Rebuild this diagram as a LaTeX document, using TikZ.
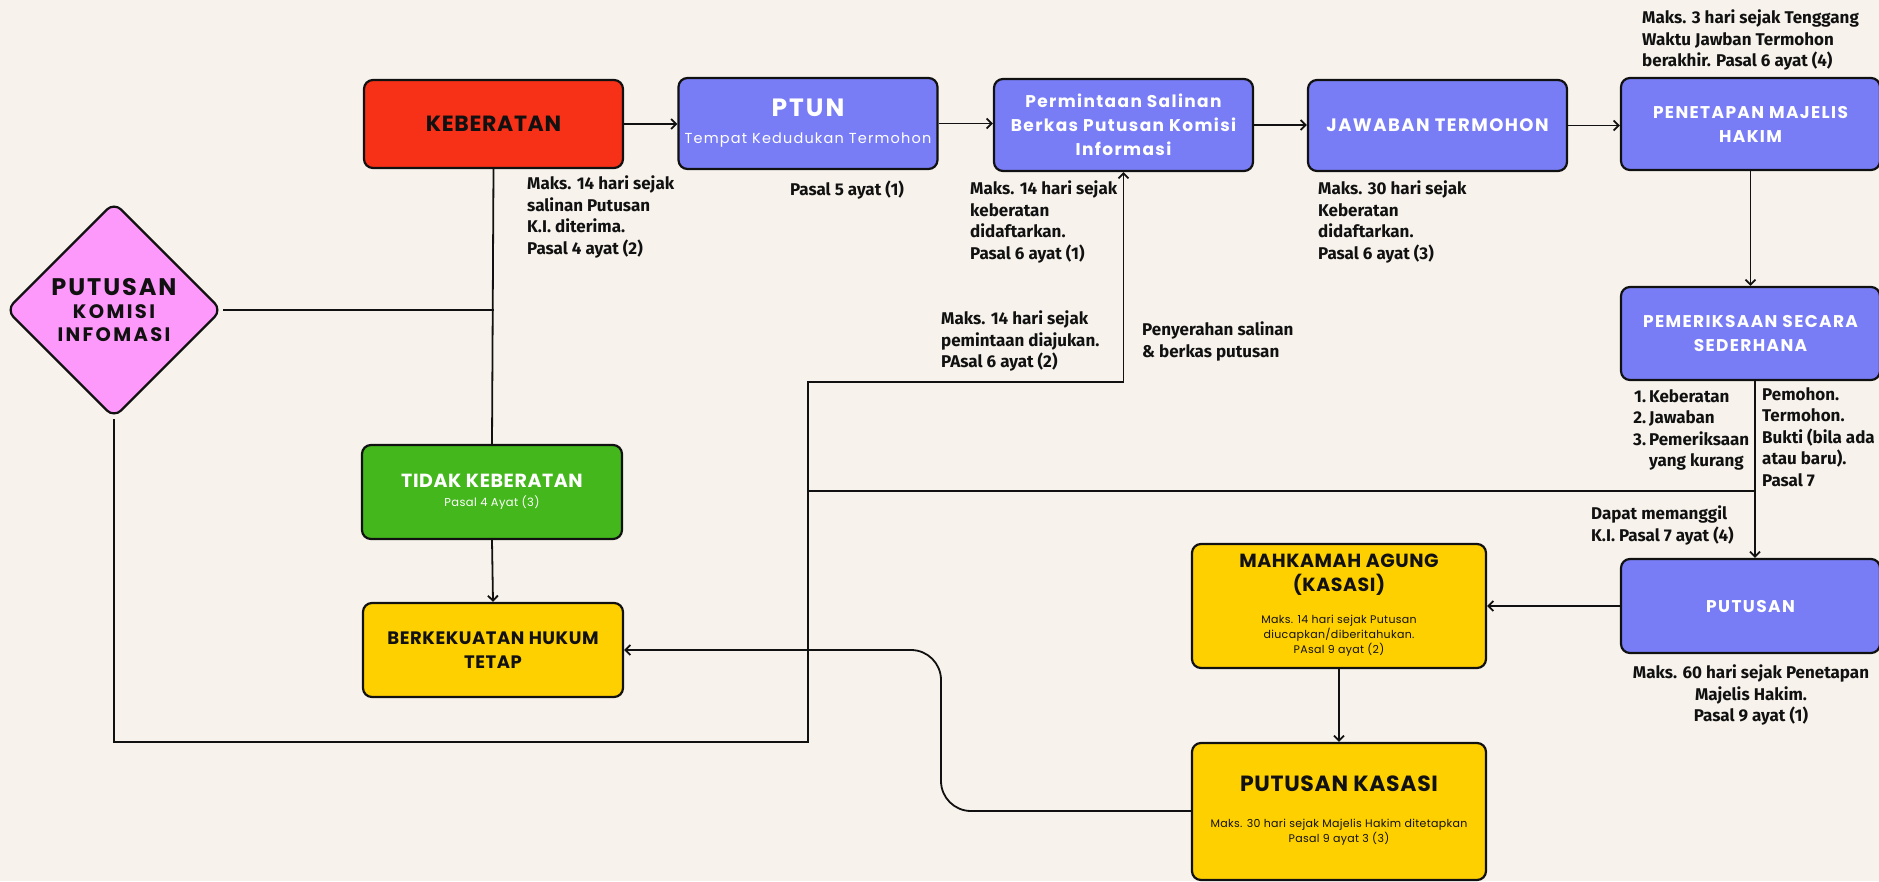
\documentclass[tikz,border=0pt]{standalone}
\usepackage{fontspec}
\usetikzlibrary{arrows.meta,shapes.geometric}
\setmainfont{Fira Sans}
\newfontfamily\lblfont{Fira Sans}
\newfontfamily\ttlfont{Poppins}[LetterSpace=3]
\newfontfamily\ttlwide{Poppins}[LetterSpace=8]
\newfontfamily\diafont{Poppins}[LetterSpace=12]
\definecolor{bgc}{HTML}{F7F3EC}
\definecolor{redc}{HTML}{F63118}
\definecolor{bluec}{HTML}{787DF6}
\definecolor{greenc}{HTML}{43B71B}
\definecolor{yelc}{HTML}{FFD000}
\definecolor{pinkc}{HTML}{FE99FC}
\definecolor{inkc}{HTML}{111111}
\newcommand{\smalltext}[1]{{\ttlfont\mdseries\fontsize{11}{14.4}\selectfont\begin{tabular}[t]{@{}c@{}}#1\end{tabular}}}
\begin{document}
\begin{tikzpicture}[x=1pt,y=-1pt,
  box/.style={draw=inkc,line width=2.2pt,rounded corners=9pt,inner sep=0pt,align=center},
  bluebox/.style={box,fill=bluec,text=white,minimum width=259pt,font=\ttlwide\bfseries\fontsize{17}{24}\selectfont},
  yelbox/.style={box,fill=yelc,text=inkc,font=\ttlfont\bfseries\fontsize{19}{24}\selectfont},
  conn/.style={line width=1.8pt,draw=inkc},
  arr/.style={conn,-{Straight Barb[length=5pt,width=10pt]}},
  lbl/.style={inner sep=0pt,align=left,text=inkc,font=\lblfont\bfseries\fontsize{17}{21.5}\selectfont}
]
\fill[bgc] (0,0) rectangle (1879,881);
\useasboundingbox (0,0) rectangle (1879,881);

% top row
\node[box,fill=redc,minimum width=259pt,minimum height=88pt,text=inkc,font=\ttlfont\bfseries\fontsize{22}{26}\selectfont] (keb) at (493.5,124) {KEBERATAN};
\node[bluebox,minimum height=91pt] (ptun) at (808,123.5) {{\fontsize{25}{28}\selectfont PTUN}\\[3pt]{\ttlwide\mdseries\fontsize{14.5}{18}\selectfont Tempat Kedudukan Termohon}};
\node[bluebox,minimum height=92pt] (perm) at (1123.5,125) {Permintaan Salinan\\Berkas Putusan Komisi\\Informasi};
\node[bluebox,minimum height=91pt,font=\ttlwide\bfseries\fontsize{18}{24}\selectfont] (jaw) at (1437.5,125.5) {JAWABAN TERMOHON};
\node[bluebox,minimum height=92pt] (pen) at (1750.5,124) {PENETAPAN MAJELIS\\HAKIM};
\node[bluebox,minimum height=93pt] (pem) at (1750.5,333.5) {PEMERIKSAAN SECARA\\SEDERHANA};
\node[bluebox,minimum height=94pt] (put) at (1750.5,606) {PUTUSAN};

% yellow boxes
\node[yelbox,minimum width=294pt,minimum height=124pt] (ma) at (1339,606) {MAHKAMAH AGUNG\\(KASASI)\\[8pt]\smalltext{Maks. 14 hari sejak Putusan\\diucapkan/diberitahukan.\\PAsal 9 ayat (2)}};
\node[yelbox,minimum width=294pt,minimum height=137pt,font=\ttlfont\bfseries\fontsize{22}{24}\selectfont] (kas) at (1339,811.5) {PUTUSAN KASASI\\[12pt]\smalltext{Maks. 30 hari sejak Majelis Hakim ditetapkan\\Pasal 9 ayat 3 (3)}};
\node[yelbox,minimum width=260pt,minimum height=94pt,font=\ttlfont\bfseries\fontsize{18}{24}\selectfont] (berk) at (493,650) {BERKEKUATAN HUKUM\\TETAP};
\node[box,fill=greenc,text=white,minimum width=260pt,minimum height=94pt,font=\ttlfont\bfseries\fontsize{19}{19}\selectfont] (tid) at (492,492) {TIDAK KEBERATAN\\{\mdseries\fontsize{11.5}{13}\selectfont Pasal 4 Ayat (3)}};

% diamond
\node[draw=inkc,line width=2.2pt,fill=pinkc,diamond,minimum width=216pt,minimum height=216pt,inner sep=0pt,rounded corners=10pt,align=center,text=inkc,font=\diafont\bfseries\fontsize{19.5}{23}\selectfont] (dia) at (114,310) {{\ttlwide\fontsize{24}{23}\selectfont PUTUSAN}\\KOMISI\\INFOMASI};

% helper coordinates
\coordinate (c1) at (808,742);
\coordinate (c2) at (808,382);
\coordinate (c3) at (808,491);
\coordinate (j1) at (1755,491);
\coordinate (kb) at (941,0);

% connectors
\draw[arr] (keb.east) -- (keb.east -| ptun.west);
\draw[arr] (ptun.east) -- (ptun.east -| perm.west);
\draw[arr] (perm.east) -- (perm.east -| jaw.west);
\draw[arr] (jaw.east) -- (jaw.east -| pen.west);
\draw[arr] (pen.south) -- (pem.north);
\draw[arr] ([xshift=4.5pt]pem.south) -- ([xshift=4.5pt]put.north);
\draw[arr] (put.west) -- (ma.east);
\draw[arr] (ma.south) -- (kas.north);
\draw[arr,rounded corners=30pt] (kas.west |- 0,811) -- (kb |- 0,811) -- (kb |- berk.east) -- (berk.east);
\draw[conn] (keb.south) -- (tid.north);
\draw[conn] (dia.east) -- (dia.east -| keb.south);
\draw[arr] (tid.south) -- (berk.north);
\draw[arr] (dia.south) |- (c1) -- (c2) -| (perm.south);
\draw[conn] (c3) -- (j1);

% labels
\node[lbl,anchor=north west] (l1) at (527,176) {Maks. 14 hari sejak\\salinan Putusan\\K.I. diterima.\\Pasal 4 ayat (2)};
\node[lbl,anchor=north] (l2) at (847,181) {Pasal 5 ayat (1)};
\node[lbl,anchor=north west] (l3) at (970,181) {Maks. 14 hari sejak\\keberatan\\didaftarkan.\\Pasal 6 ayat (1)};
\node[lbl,anchor=north west] (l4) at (1318,181) {Maks. 30 hari sejak\\Keberatan\\didaftarkan.\\Pasal 6 ayat (3)};
\node[lbl,anchor=north west] (l5) at (1642,10) {Maks. 3 hari sejak Tenggang\\Waktu Jawban Termohon\\berakhir. Pasal 6 ayat (4)};
\node[lbl,anchor=north west] (l6) at (941,311) {Maks. 14 hari sejak\\pemintaan diajukan.\\PAsal 6 ayat (2)};
\node[lbl,anchor=north west] (l7) at (1142,322) {Penyerahan salinan\\\& berkas putusan};
\node[lbl,anchor=north west] (l8) at (1633,387) {\begin{tabular}{@{}r@{\hspace{3pt}}l@{}}1.&Keberatan\\2.&Jawaban\\3.&Pemeriksaan\\&yang kurang\end{tabular}};
\node[lbl,anchor=north west] (l9) at (1762,387) {Pemohon.\\Termohon.\\Bukti (bila ada\\atau baru).\\Pasal 7};
\node[lbl,anchor=north west] (l10) at (1591,506) {Dapat memanggil\\K.I. Pasal 7 ayat (4)};
\node[lbl,anchor=north,align=center] (l11) at (1751,665) {Maks. 60 hari sejak Penetapan\\Majelis Hakim.\\Pasal 9 ayat (1)};
\end{tikzpicture}
\end{document}
